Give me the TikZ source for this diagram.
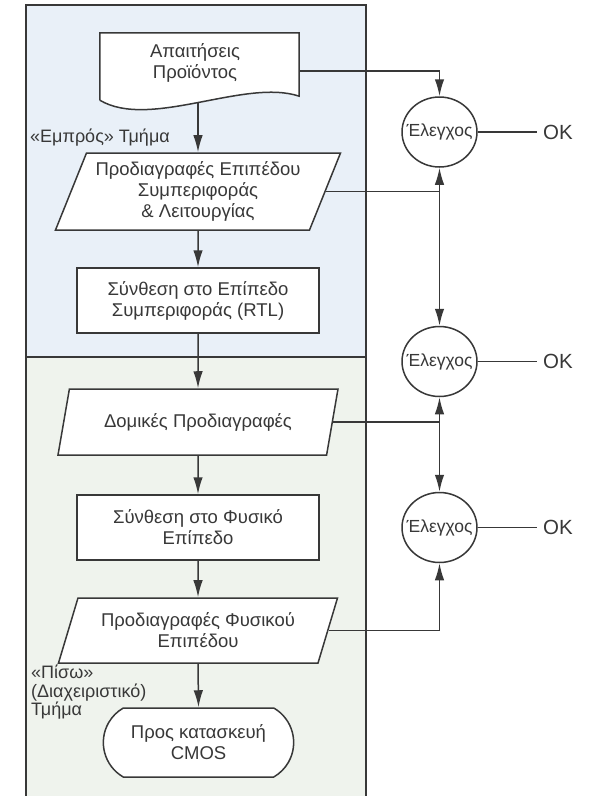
\documentclass[tikz,border=0pt]{standalone}
\usepackage{fontspec}
\setmainfont{Liberation Sans}
\usetikzlibrary{arrows.meta,shapes.geometric,shapes.misc,calc}

\definecolor{ink}{HTML}{383838}
\definecolor{frontbg}{HTML}{E9F0F8}
\definecolor{backbg}{HTML}{EFF3ED}

\tikzset{
  line/.style={draw=ink, line width=1.5pt},
  arr/.style={line, -{Latex[length=17pt,width=9.5pt]}},
  boxtext/.style={font=\fontsize{18.5}{21}\selectfont, align=center, text=ink},
  procbox/.style={line, fill=white, shape=rectangle, minimum width=242pt, minimum height=65pt, boxtext},
  databox/.style={line, fill=white, trapezium, trapezium left angle=65, trapezium right angle=115,
    trapezium stretches body, inner xsep=0pt, boxtext},
  endbox/.style={line, fill=white, rounded rectangle, rounded rectangle arc length=120,
    minimum width=197pt, minimum height=69pt, boxtext},
  checkbox/.style={line, fill=white, ellipse, minimum width=75pt, minimum height=70pt, inner sep=0pt},
  checktext/.style={font=\fontsize{17.5}{20}\selectfont, text=ink, inner sep=0pt},
  oktext/.style={font=\fontsize{20.5}{23}\selectfont, text=ink, anchor=west, inner xsep=6pt},
  sidelabel/.style={font=\fontsize{18}{18.5}\selectfont, text=ink, align=left, anchor=north west, inner sep=0pt}
}

\begin{document}
\begin{tikzpicture}[x=1pt, y=-1pt]
  \useasboundingbox (0,0) rectangle (598,796);

  % shaded front-end and back-end regions
  \fill[frontbg] (26,5) rectangle (366,357);
  \fill[backbg] (26,357) rectangle (366,796);
  \draw[line] (26,796) -- (26,5) -- (366,5) -- (366,796);
  \draw[line] (26,357) -- (366,357);

  % product requirements (document shape)
  \node (req) [minimum width=199pt, minimum height=67pt, inner sep=0pt] at (199.5,66.5) {};
  \draw[line, fill=white] (req.south west) -- (req.north west) -- (req.north east)
    -- ([yshift=4pt]req.south east)
    .. controls (245,78) and (150,130) .. (req.south west);
  \node[boxtext] (reqtext) at (195,63) {Απαιτήσεις\\Προϊόντος};
  \coordinate (reqout) at (198,102.5);

  % main flow
  \node[databox, minimum width=285pt, minimum height=77pt] (beh) at (198,191.5)
    {Προδιαγραφές Επιπέδου\\Συμπεριφοράς\\\& Λειτουργίας};
  \node[procbox] (rtl) at (198,300.5) {Σύνθεση στο Επίπεδο\\Συμπεριφοράς (RTL)};
  \node[databox, minimum width=280pt, minimum height=66pt] (str) at (198,422) {Δομικές Προδιαγραφές};
  \node[procbox] (phy) at (198,527.5) {Σύνθεση στο Φυσικό\\Επίπεδο};
  \node[databox, minimum width=279pt, minimum height=65pt] (phs) at (198,630.5)
    {Προδιαγραφές Φυσικού\\Επιπέδου};
  \node[endbox] (cmos) at (198.5,742.5) {Προς κατασκευή\\CMOS};

  \draw[arr] (reqout) -- (reqout |- beh.north);
  \draw[arr] (beh.south) -- (rtl.north);
  \draw[arr] (rtl.south) -- (str.north);
  \draw[arr] (str.south) -- (phy.north);
  \draw[arr] (phy.south) -- (phs.north);
  \draw[arr] (phs.south) -- (cmos.north);

  % side labels
  \node[sidelabel] (front) at (30,129) {«Εμπρός» Τμήμα};
  \node[sidelabel] (back) at (31,665) {«Πίσω»\\(Διαχειριστικό)\\Τμήμα};

  % checks
  \node[checkbox] (c1) at (439.5,132) {};
  \node[checkbox] (c2) at (439.5,361.5) {};
  \node[checkbox] (c3) at (439.5,527.5) {};
  \node[checktext] (c1t) at (c1) {Έλεγχος};
  \node[checktext] (c2t) at (c2) {Έλεγχος};
  \node[checktext] (c3t) at (c3) {Έλεγχος};

  \node[oktext] (ok1) at (537,132) {OK};
  \node[oktext] (ok2) at (537,361.5) {OK};
  \node[oktext] (ok3) at (537,527.5) {OK};
  \draw[line] (c1.east) -- (ok1.west);
  \draw[line] (c2.east) -- (ok2.west);
  \draw[line] (c3.east) -- (ok3.west);

  % feeds into the checks
  \coordinate (j0) at (c1 |- 71,71);
  \coordinate (j1) at (c1 |- beh.east);
  \coordinate (j2) at (c1 |- str.east);
  \coordinate (j3) at (c1 |- phs.east);

  \draw[line] (req.east |- j0) -- (j0);
  \draw[arr] (j0) -- (c1.north);
  \draw[line] (beh.east) -- (j1);
  \draw[arr] (j1) -- (c1.south);
  \draw[arr] (j1) -- (c2.north);
  \draw[line] (str.east) -- (j2);
  \draw[arr] (j2) -- (c2.south);
  \draw[arr] (j2) -- (c3.north);
  \draw[line] (phs.east) -- (j3);
  \draw[arr] (j3) -- (c3.south);
\end{tikzpicture}
\end{document}
